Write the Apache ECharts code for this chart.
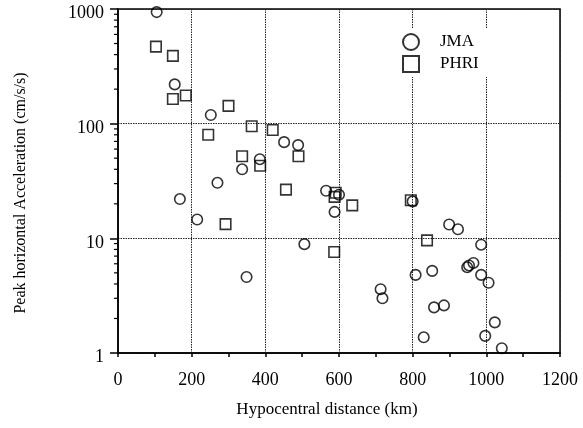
<!DOCTYPE html>
<html>
<head>
<meta charset="utf-8">
<script src="https://cdn.jsdelivr.net/npm/echarts@6/dist/echarts.min.js"></script>
<style>html,body{margin:0;padding:0;background:#fff;}#c{width:583px;height:428px;}</style>
</head>
<body>
<div id="c"></div>
<script>
// Data (hypocentral distance km, peak acceleration cm/s/s)
var jmaData = [
  [105, 940], [154, 220], [252, 119], [451, 69], [489, 65], [385, 49], [337, 40],
  [270, 30.5], [565, 26], [600, 24], [168, 22], [215, 14.6], [588, 17], [506, 8.9],
  [349, 4.6], [800, 21], [899, 13.2], [923, 12], [986, 8.8], [948, 5.6], [953, 5.8],
  [965, 6.1], [808, 4.8], [853, 5.2], [986, 4.8], [1006, 4.1], [713, 3.6], [718, 3.0],
  [858, 2.5], [885, 2.6], [1023, 1.85], [830, 1.37], [997, 1.41], [1042, 1.1]
];
var phriData = [
  [103, 470], [149, 390], [149, 164], [184, 176], [300, 143], [245, 80], [363, 95],
  [420, 88], [337, 52], [490, 52], [386, 43], [456, 26.6], [591, 25], [588, 23],
  [292, 13.3], [636, 19.4], [587, 7.6], [795, 21.5], [839, 9.6]
];
var seriesNames = ['JMA', 'PHRI'];
var xTitle = 'Hypocentral distance (km)';
var yTitle = 'Peak horizontal Acceleration (cm/s/s)';
var yMinorTickValues = [2,3,4,5,6,7,8,9,20,30,40,50,60,70,80,90,200,300,400,500,600,700,800,900];

var FONT = 'Liberation Serif';
var plain = function (v) { return String(v); };
var chart = echarts.init(document.getElementById('c'), null, {renderer: 'canvas'});
var option = {
  animation: false,
  backgroundColor: '#fff',
  grid: {left: 118, right: 23, top: 9, bottom: 75, show: true, borderColor: '#000', borderWidth: 1.5},
  legend: {
    data: seriesNames,
    orient: 'vertical',
    left: 400, top: 29,
    itemWidth: 16, itemHeight: 16, itemGap: 4,
    padding: [4, 14, 4, 2],
    backgroundColor: '#fff',
    textStyle: {fontFamily: FONT, fontSize: 17, color: '#000', padding: [0, 0, 0, 16]},
    z: 10
  },
  xAxis: {
    type: 'value', min: 0, max: 1200, interval: 200,
    axisLine: {show: true, lineStyle: {color: '#000', width: 1.5}},
    axisTick: {show: true, inside: false, length: 4, lineStyle: {color: '#000', width: 1.5}},
    minorTick: {show: true, splitNumber: 2, length: 4, lineStyle: {color: '#000', width: 1.5}},
    axisLabel: {fontFamily: FONT, fontSize: 18, color: '#000', margin: 18, formatter: plain},
    splitLine: {show: true, lineStyle: {color: '#222', type: [1.5, 1], width: 1}}
  },
  yAxis: {
    type: 'log', logBase: 10, min: 1, max: 1000,
    axisLine: {show: true, lineStyle: {color: '#000', width: 1.5}},
    axisTick: {show: true, inside: false, length: 8, lineStyle: {color: '#000', width: 1.5}},
    axisLabel: {fontFamily: FONT, fontSize: 18, color: '#000', margin: 14, verticalAlign: 'top', lineHeight: 9, formatter: plain},
    splitLine: {show: true, lineStyle: {color: '#222', type: [1.5, 1], width: 1}}
  },
  graphic: [
    {type: 'text', x: 327, y: 410, style: {text: xTitle, fontFamily: FONT, fontSize: 17, fill: '#000', align: 'center', verticalAlign: 'middle'}},
    {type: 'text', x: 21, y: 193, rotation: Math.PI / 2, style: {text: yTitle, fontFamily: FONT, fontSize: 16, fill: '#000', align: 'center', verticalAlign: 'middle'}}
  ],
  series: [
    {
      name: 'JMA', type: 'scatter', data: jmaData, symbol: 'circle', symbolSize: 10.5,
      itemStyle: {color: 'rgba(255,255,255,0)', borderColor: '#000', borderWidth: 1.6}, z: 5
    },
    {
      name: 'PHRI', type: 'scatter', data: phriData, symbol: 'rect', symbolSize: 10.5,
      itemStyle: {color: 'rgba(255,255,255,0)', borderColor: '#000', borderWidth: 1.6}, z: 5
    },
    {
      name: 'minorTicks', type: 'custom', silent: true, clip: false,
      data: yMinorTickValues.map(function (v) { return [0, v]; }),
      renderItem: function (params, api) {
        var p = api.coord([0, api.value(1)]);
        return {type: 'line', shape: {x1: p[0] - 4, y1: p[1], x2: p[0], y2: p[1]}, style: {stroke: '#000', lineWidth: 1.2}};
      }
    }
  ]
};
chart.setOption(option);
</script>
</body>
</html>
